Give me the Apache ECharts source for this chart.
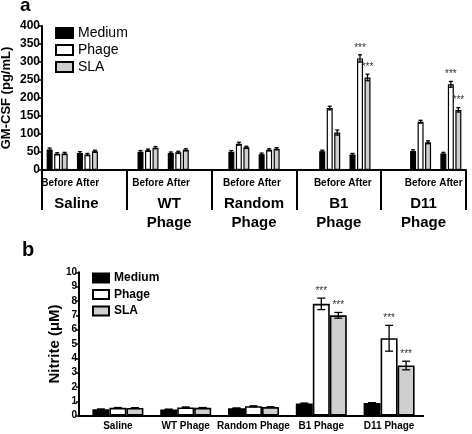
<!DOCTYPE html>
<html>
<head>
<meta charset="utf-8">
<script src="https://cdn.jsdelivr.net/npm/echarts@6/dist/echarts.min.js"></script>
<style>html,body{margin:0;padding:0;background:#fff}#c{width:472px;height:434px}</style>
</head>
<body>
<div id="c"></div>
<script>
// ---------- Data ----------
const groups = ['Saline', 'WT Phage', 'Random Phage', 'B1 Phage', 'D11 Phage'];
const groupTickA = ['Saline', 'WT\nPhage', 'Random\nPhage', 'B1\nPhage', 'D11\nPhage'];
const timepoints = ['Before', 'After'];
const seriesNames = ['Medium', 'Phage', 'SLA'];

// Panel a: GM-CSF (pg/mL), order: [group0 Before, group0 After, group1 Before, ...]
const gmMedium = [57, 47, 51, 47, 51, 44, 52, 43, 53, 46];
const gmPhage  = [45, 43, 55, 49, 73, 56, 172, 310, 134, 238];
const gmSLA    = [46, 52, 62, 56, 63, 59, 104, 257, 77, 167];
const gmMediumErr = [4, 4, 3, 3, 3, 3, 3, 3, 3, 3];
const gmPhageErr  = [3, 3, 3, 3, 4, 3, 5, 10, 4, 8];
const gmSLAErr    = [3, 3, 3, 3, 3, 3, 7, 9, 4, 6];
const gmMediumSig = [0, 0, 0, 0, 0, 0, 0, 0, 0, 0];
const gmPhageSig  = [0, 0, 0, 0, 0, 0, 0, 1, 0, 1];
const gmSLASig    = [0, 0, 0, 0, 0, 0, 0, 1, 0, 1];
const gmTicks = [0, 50, 100, 150, 200, 250, 300, 350, 400];

// Panel b: Nitrite (uM)
const no2Medium = [0.45, 0.44, 0.52, 0.85, 0.88];
const no2Phage  = [0.55, 0.58, 0.66, 7.8, 5.4];
const no2SLA    = [0.54, 0.55, 0.60, 7.0, 3.5];
const no2MediumErr = [0.02, 0.02, 0.02, 0.03, 0.03];
const no2PhageErr  = [0.02, 0.03, 0.03, 0.4, 0.9];
const no2SLAErr    = [0.02, 0.02, 0.02, 0.2, 0.3];
const no2MediumSig = [0, 0, 0, 0, 0];
const no2PhageSig  = [0, 0, 0, 1, 1];
const no2SLASig    = [0, 0, 0, 1, 1];
const no2Ticks = [0, 1, 2, 3, 4, 5, 6, 7, 8, 9, 10];

// ---------- Helpers ----------
const FONT = "'Liberation Sans', Arial, sans-serif";
const fills = ['#000000', '#ffffff', '#cfcfcf'];

const slotLabels = [];
groups.forEach((g, i) => {
  timepoints.forEach(t => slotLabels.push(t));
  if (i < groups.length - 1) slotLabels.push('');
});
const slotOf = i => Math.floor(i / 2) * 3 + (i % 2);
function toSlots(arr) {
  const out = slotLabels.map(() => '-');
  arr.forEach((v, i) => { out[slotOf(i)] = v; });
  return out;
}

function errSeries(xIdx, yIdx, vals, errs, sigs, offset, capHalf, useSlots) {
  return {
    type: 'custom', xAxisIndex: xIdx, yAxisIndex: yIdx, z: 5, silent: true,
    encode: { x: 0, y: 1 },
    data: vals.map((v, i) => [useSlots ? slotOf(i) : i, v, errs[i], sigs[i]]),
    renderItem: function (params, api) {
      const c = api.value(0), v = api.value(1), e = api.value(2);
      const x = api.coord([c, v])[0] + offset;
      const yt = api.coord([c, v + e])[1];
      const yb = api.coord([c, v - e])[1];
      const st = { stroke: '#000', lineWidth: 1.3 };
      const ch = [
        { type: 'line', shape: { x1: x, y1: yt, x2: x, y2: yb }, style: st },
        { type: 'line', shape: { x1: x - capHalf, y1: yt, x2: x + capHalf, y2: yt }, style: st },
        { type: 'line', shape: { x1: x - capHalf, y1: yb, x2: x + capHalf, y2: yb }, style: st }
      ];
      if (api.value(3)) {
        ch.push({ type: 'text', style: { x: x, y: yt - 2, text: '***', fill: '#333', fontSize: 10, fontFamily: FONT, align: 'center', verticalAlign: 'bottom' } });
      }
      return { type: 'group', children: ch };
    }
  };
}

const gmVals = [gmMedium, gmPhage, gmSLA];
const gmErrs = [gmMediumErr, gmPhageErr, gmSLAErr];
const gmSigs = [gmMediumSig, gmPhageSig, gmSLASig];
const noVals = [no2Medium, no2Phage, no2SLA];
const noErrs = [no2MediumErr, no2PhageErr, no2SLAErr];
const noSigs = [no2MediumSig, no2PhageSig, no2SLASig];

const series = [];
seriesNames.forEach((n, s) => {
  series.push({
    type: 'bar', name: n, xAxisIndex: 0, yAxisIndex: 0, data: toSlots(gmVals[s]),
    barWidth: 6, barGap: '25%',
    itemStyle: { color: fills[s], borderColor: '#000', borderWidth: 1.2 }
  });
});
seriesNames.forEach((n, s) => {
  series.push(errSeries(0, 0, gmVals[s], gmErrs[s], gmSigs[s], (s - 1) * 7.5, 2, true));
});
seriesNames.forEach((n, s) => {
  series.push({
    type: 'bar', name: n, xAxisIndex: 2, yAxisIndex: 2, data: noVals[s],
    barWidth: 17, barGap: '0%',
    itemStyle: { color: fills[s], borderColor: '#000', borderWidth: 1.6 }
  });
});
seriesNames.forEach((n, s) => {
  series.push(errSeries(2, 2, noVals[s], noErrs[s], noSigs[s], (s - 1) * 17, 4, false));
});

const gridA = { left: 42, right: 6, top: 26, height: 144, outerBoundsMode: 'none', containLabel: false };
const gridB = { left: 84, right: 49, top: 272.3, height: 143.4, outerBoundsMode: 'none', containLabel: false };

const option = {
  animation: false,
  textStyle: { fontFamily: FONT, color: '#000' },
  title: [
    { text: 'a', left: 20, top: -4, padding: 0, textStyle: { fontSize: 19, fontWeight: 'bold', color: '#000', fontFamily: FONT } },
    { text: 'b', left: 22, top: 240, padding: 0, textStyle: { fontSize: 20, fontWeight: 'bold', color: '#000', fontFamily: FONT } }
  ],
  legend: [
    { data: seriesNames, left: 55, top: 26, padding: 0, orient: 'vertical', itemWidth: 17, itemHeight: 10, itemGap: 3, selectedMode: false, icon: 'rect',
      textStyle: { fontSize: 14, color: '#000', fontFamily: FONT } },
    { data: seriesNames, left: 92, top: 272, padding: 0, orient: 'vertical', itemWidth: 16, itemHeight: 9, itemGap: 4.5, selectedMode: false, icon: 'rect',
      textStyle: { fontSize: 12, fontWeight: 'bold', color: '#000', fontFamily: FONT } }
  ],
  grid: [
    Object.assign({}, gridA),
    Object.assign({}, gridA),
    Object.assign({}, gridB),
    { left: 79, right: 49, top: 272.3, height: 143.4, outerBoundsMode: 'none', containLabel: false }
  ],
  xAxis: [
    { gridIndex: 0, type: 'category', data: slotLabels, position: 'bottom',
      axisLine: { show: false }, axisTick: { show: false },
      axisLabel: { interval: 0, margin: 8, fontSize: 10, fontWeight: 'bold', color: '#000', fontFamily: FONT } },
    { gridIndex: 1, type: 'category', position: 'bottom',
      data: groupTickA.map((g, i) => i === 0 ? { value: g, textStyle: { padding: [0, 16, 0, 0] } } : g),
      axisLine: { lineStyle: { color: '#000', width: 2 } },
      axisTick: { show: true, length: 40, interval: 0, alignWithLabel: false, lineStyle: { color: '#000', width: 2 } },
      axisLabel: { interval: 0, margin: 24, fontSize: 15, fontWeight: 'bold', lineHeight: 19, color: '#000', fontFamily: FONT } },
    { gridIndex: 2, type: 'category', data: groups,
      axisLine: { lineStyle: { color: '#000', width: 2 } }, axisTick: { show: false },
      axisLabel: { interval: 0, margin: 6, fontSize: 10, fontWeight: 'bold', color: '#000', fontFamily: FONT } },
    { gridIndex: 3, type: 'value', min: 0, max: 1,
      axisLine: { show: true, lineStyle: { color: '#000', width: 2 } }, axisTick: { show: false },
      axisLabel: { show: false }, splitLine: { show: false } }
  ],
  yAxis: [
    { gridIndex: 0, type: 'value', min: gmTicks[0], max: gmTicks[gmTicks.length - 1], interval: gmTicks[1] - gmTicks[0],
      name: 'GM-CSF (pg/mL)', nameLocation: 'middle', nameRotate: 90, nameGap: 29, nameMoveOverlap: false,
      nameTextStyle: { fontSize: 13, fontWeight: 'bold', color: '#000', fontFamily: FONT },
      axisLine: { show: true, lineStyle: { color: '#000', width: 2 } },
      axisTick: { show: true, length: 3, lineStyle: { color: '#000', width: 1.5 } },
      axisLabel: { margin: 2, fontSize: 12, fontWeight: 'bold', color: '#000', fontFamily: FONT },
      splitLine: { show: false } },
    { gridIndex: 1, type: 'value', min: 0, max: 400, show: false, splitLine: { show: false } },
    { gridIndex: 2, type: 'value', min: no2Ticks[0], max: no2Ticks[no2Ticks.length - 1], interval: no2Ticks[1] - no2Ticks[0],
      offset: 5,
      name: 'Nitrite (μM)', nameLocation: 'middle', nameRotate: 90, nameGap: 17, nameMoveOverlap: false,
      nameTextStyle: { fontSize: 15, fontWeight: 'bold', color: '#000', fontFamily: FONT },
      axisLine: { show: true, lineStyle: { color: '#000', width: 2 } },
      axisTick: { show: true, length: 3, lineStyle: { color: '#000', width: 1.5 } },
      axisLabel: { margin: 2, fontSize: 10, fontWeight: 'bold', color: '#000', fontFamily: FONT },
      splitLine: { show: false } },
    { gridIndex: 3, type: 'value', min: 0, max: 1, show: false, splitLine: { show: false } }
  ],
  series: series
};

const chart = echarts.init(document.getElementById('c'), null, { renderer: 'canvas' });
chart.setOption(option);
</script>
</body>
</html>
